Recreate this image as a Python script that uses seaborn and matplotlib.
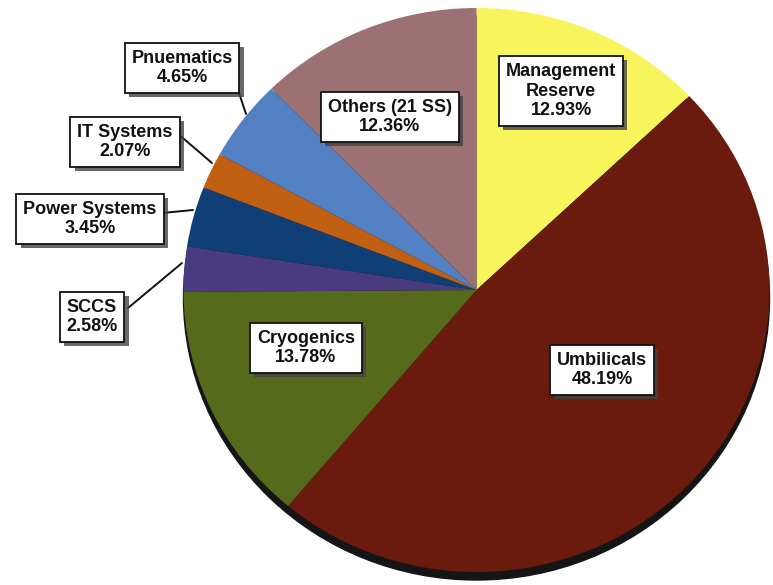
import matplotlib
matplotlib.use("Agg")
import matplotlib.pyplot as plt
import matplotlib.patheffects as pe
from matplotlib.patches import Ellipse
import seaborn as sns

# Budget share by subsystem, clockwise from 12 o'clock
categories = ["Management\nReserve", "Umbilicals", "Cryogenics", "SCCS",
              "Power Systems", "IT Systems", "Pnuematics", "Others (21 SS)"]
shares = [12.93, 48.19, 13.78, 2.58, 3.45, 2.07, 4.65, 12.36]
slice_colors = ["#F8F45C", "#6A1B0D", "#566A1C", "#4A3B80",
                "#0F3F74", "#C15F12", "#5280C2", "#9C7174"]

W, H = 773, 585
R = 282
SX = 293 / R  # pie is a touch wider than tall

sns.set_theme(style="white")
plt.rcParams["font.family"] = ["Liberation Sans", "DejaVu Sans"]

fig = plt.figure(figsize=(W / 100, H / 100), dpi=100)
ax = fig.add_axes([0, 0, 1, 1])
palette = sns.color_palette(slice_colors)


def P(x, y):
    """pixel position (top-left origin) -> data coordinates"""
    return (x / SX, H - y)


cx, cy = P(476.5, 290)

# drop shadow under the pie
ax.add_patch(Ellipse((cx, cy - 8), 2 * R, 2 * R, color="#151515", zorder=0))

wedges, _ = ax.pie(shares, colors=palette, startangle=90, counterclock=False,
                   center=(cx, cy), radius=R,
                   wedgeprops=dict(linewidth=0))
ax.set_aspect("auto")
ax.set_xlim(0, W / SX)
ax.set_ylim(0, H)
ax.axis("off")

# label box centres (pixels)
label_pos = [(561, 91), (602, 370), (306, 348), (92, 317),
             (90, 219), (125, 142), (182, 68), (390, 117)]

# leader lines for the thin outside slices: (box end, slice end)
leaders = {
    3: ((128, 308), (182, 263)),
    4: ((162, 213), (193, 210)),
    5: ((177, 133), (212, 163)),
    6: ((238, 90), (246, 114)),
}
for i, (a, b) in leaders.items():
    (x0, y0), (x1, y1) = P(*a), P(*b)
    ax.plot([x0, x1], [y0, y1], color="#111111", lw=1.4, zorder=3)

for cat, val, (px, py) in zip(categories, shares, label_pos):
    txt = f"{cat}\n{val:.2f}%"
    x, y = P(px, py)
    t = ax.text(x, y, txt, ha="center", va="center", fontsize=13,
                fontweight="bold", color="#111111", linespacing=1.2,
                bbox=dict(boxstyle="square,pad=0.38", fc="white", ec="#111111", lw=1.3),
                zorder=5)
    t.get_bbox_patch().set_path_effects(
        [pe.SimplePatchShadow(offset=(3, -3), shadow_rgbFace="#444444", alpha=0.8),
         pe.Normal()])

fig.savefig("out.png", dpi=100, facecolor="white")
